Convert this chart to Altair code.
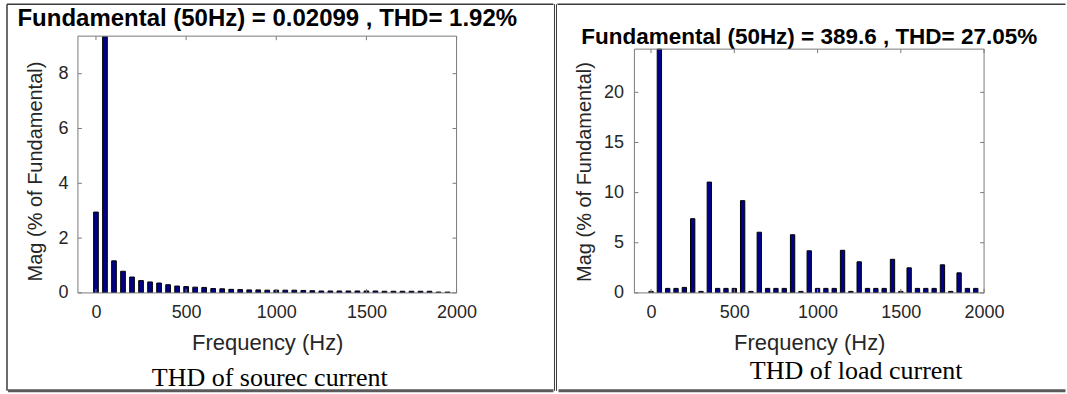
import altair as alt
import pandas as pd

# ---------------- data ----------------
freq_hz = [0, 50, 100, 150, 200, 250, 300, 350, 400, 450,
           500, 550, 600, 650, 700, 750, 800, 850, 900, 950,
           1000, 1050, 1100, 1150, 1200, 1250, 1300, 1350, 1400, 1450,
           1500, 1550, 1600, 1650, 1700, 1750, 1800, 1850, 1900, 1950]

source_mag = [2.95, 100, 1.17, 0.79, 0.58, 0.45, 0.40, 0.36, 0.30, 0.25,
              0.23, 0.21, 0.20, 0.16, 0.15, 0.13, 0.12, 0.11, 0.11, 0.10,
              0.10, 0.10, 0.10, 0.09, 0.08, 0.07, 0.07, 0.07, 0.07, 0.07,
              0.07, 0.07, 0.06, 0.06, 0.06, 0.06, 0.06, 0.06, 0.03, 0.03]

load_mag = [0.15, 100, 0.45, 0.45, 0.55, 7.4, 0.15, 11.05, 0.45, 0.45,
            0.45, 9.2, 0.15, 6.05, 0.45, 0.45, 0.45, 5.8, 0.15, 4.2,
            0.45, 0.45, 0.45, 4.25, 0.15, 3.1, 0.45, 0.45, 0.45, 3.35,
            0.15, 2.5, 0.45, 0.45, 0.45, 2.8, 0.15, 2.0, 0.45, 0.45]

x_ticks = [0, 500, 1000, 1500, 2000]
left_y_ticks = [0, 2, 4, 6, 8]
right_y_ticks = [0, 5, 10, 15, 20]

left_title = "Fundamental (50Hz) = 0.02099 , THD= 1.92%"
right_title = "Fundamental (50Hz) = 389.6 , THD= 27.05%"
left_caption = "THD of sourec current"
right_caption = "THD of load current"
x_title = "Frequency (Hz)"
y_title = "Mag (% of Fundamental)"

# ---------------- style ----------------
FONT = "Liberation Sans"
SERIF = "Liberation Serif"
AX = "#262626"
FRAME = "#7a7a7a"
BAR_FILL = "#000088"
BORDER = "#3a3a3a"

one = pd.DataFrame({"k": [0]})


def panel(values, w, h, ydom, ycap, frame_top, yticks, title, title_xy,
          title_size, caption, cap_xy, ytitle_xy, ylab_pad, border):
    df = pd.DataFrame({"freq": freq_hz, "mag": values})
    xs = alt.Scale(domain=[-100, 2000], nice=False, zero=False)
    ys = alt.Scale(domain=[0, ydom], nice=False)

    x_axis = alt.Axis(
        values=x_ticks, format="d", title=x_title, grid=False, ticks=False,
        tickSize=0, domain=False, labelFont=FONT, labelFontSize=18,
        labelColor=AX, labelBaseline="middle", labelPadding=20,
        labelFlush=False, titleFont=FONT, titleFontSize=22,
        titleFontWeight="normal", titleColor=AX, titleY=50,
        titleBaseline="middle")
    y_axis = alt.Axis(
        values=yticks, format="d", title=y_title, grid=False, ticks=False,
        tickSize=0, domain=False, labelFont=FONT, labelFontSize=18,
        labelColor=AX, labelPadding=ylab_pad, labelFlush=False,
        titleFont=FONT, titleFontSize=20, titleFontWeight="normal",
        titleColor=AX, titleX=ytitle_xy[0], titleY=ytitle_xy[1],
        titleAlign="center", titleBaseline="middle")

    bars = alt.Chart(df).transform_calculate(
        f0="datum.freq - 13", f1="datum.freq + 13",
        magc=f"min(datum.mag, {ycap})"
    ).mark_bar(clip=True, fill=BAR_FILL, stroke="black", strokeWidth=1).encode(
        x=alt.X("f0:Q", scale=xs, axis=x_axis),
        x2="f1:Q",
        y=alt.Y("magc:Q", scale=ys, axis=y_axis),
        y2=alt.datum(0),
    )

    tx = pd.DataFrame({"f0": x_ticks})
    ty = pd.DataFrame({"magc": yticks})
    tick_b = alt.Chart(tx).mark_rule(color=FRAME).encode(
        x=alt.X("f0:Q", scale=xs, axis=x_axis),
        y=alt.value(h), y2=alt.value(h - 4))
    tick_t = alt.Chart(tx).mark_rule(color=FRAME).encode(
        x=alt.X("f0:Q", scale=xs, axis=x_axis),
        y=alt.value(frame_top), y2=alt.value(frame_top + 4))
    tick_l = alt.Chart(ty).mark_rule(color=FRAME).encode(
        y=alt.Y("magc:Q", scale=ys, axis=y_axis),
        x=alt.value(0), x2=alt.value(4))
    tick_r = alt.Chart(ty).mark_rule(color=FRAME).encode(
        y=alt.Y("magc:Q", scale=ys, axis=y_axis),
        x=alt.value(w), x2=alt.value(w - 4))

    ttl = alt.Chart(one).mark_text(
        text=title, font=FONT, fontSize=title_size, fontWeight="bold",
        color="black", align="center", baseline="middle").encode(
        x=alt.value(title_xy[0]), y=alt.value(title_xy[1]))
    cap = alt.Chart(one).mark_text(
        text=caption, font=SERIF, fontSize=26, color="black",
        align="center", baseline="middle").encode(
        x=alt.value(cap_xy[0]), y=alt.value(cap_xy[1]))

    layers = [bars, tick_b, tick_t, tick_l, tick_r, ttl, cap]
    frame = [
        (0, frame_top, w, frame_top),
        (0, h, w, h),
        (0, frame_top, 0, h),
        (w, frame_top, w, h),
    ]
    for (x1, y1, x2, y2) in frame:
        layers.append(alt.Chart(one).mark_rule(color=FRAME, strokeWidth=1).encode(
            x=alt.value(x1), y=alt.value(y1), x2=alt.value(x2), y2=alt.value(y2)))
    for (x1, y1, x2, y2, sw, col) in border:
        layers.append(alt.Chart(one).mark_rule(color=col, strokeWidth=sw).encode(
            x=alt.value(x1), y=alt.value(y1), x2=alt.value(x2), y2=alt.value(y2)))

    return alt.layer(*layers).properties(width=w, height=h)


# left panel: plot origin at canvas (78, 36)
left = panel(
    source_mag, 379, 257, 9.37, 9.37, 0, left_y_ticks, left_title,
    (189.5, -17), 24, left_caption, (192, 342), (-42, 135), 10,
    border=[
        (-71, -32, 476, -32, 1.5, BORDER),   # top
        (-71, -32, -71, 355, 1.5, BORDER),   # left
        (477, -32, 477, 355, 1, BORDER),     # divider
        (-70, 355, 476, 355, 3, "#5a5a5a"),  # bottom
    ])

# right panel: origin at canvas (633, 36); visible frame starts 13 px lower
right = panel(
    load_mag, 350, 257, 25.6, 24.3, 13, right_y_ticks, right_title,
    (175, 1), 22.5, right_caption, (222, 335), (-50, 135.5), 11,
    border=[
        (-77, -32, 431.5, -32, 1.5, BORDER),   # top
        (-78, -32, -78, 355, 1, BORDER),       # divider
        (-76, 355, 431.5, 355, 3, "#5a5a5a"),  # bottom
    ])

chart = alt.hconcat(left, right, spacing=0).properties(
    padding={"left": 6, "top": 3, "right": 0, "bottom": 0},
    background="white",
).configure_view(stroke=None)

chart.save("out.html", embed_options={"renderer": "svg", "actions": False})
